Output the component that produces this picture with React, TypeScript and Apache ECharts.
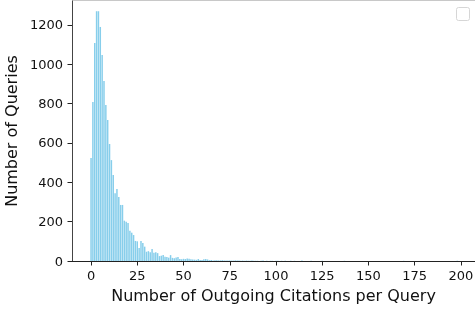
import React, { useEffect, useRef } from "react";
import * as echarts from "echarts";

// Number of outgoing citations per query (x) and number of queries (y)
const citations: number[] = [
  0, 1, 2, 3, 4, 5, 6, 7, 8, 9,
  10, 11, 12, 13, 14, 15, 16, 17, 18, 19,
  20, 21, 22, 23, 24, 25, 26, 27, 28, 29,
  30, 31, 32, 33, 34, 35, 36, 37, 38, 39,
  40, 41, 42, 43, 44, 45, 46, 47, 48, 49,
  50, 51, 52, 53, 54, 55, 56, 57, 58, 59,
  60, 61, 62, 63, 64, 65, 66, 67, 68, 69,
  70, 71, 72, 73, 74, 75, 76, 77, 78, 79,
  80, 81, 82, 83, 84, 85, 86, 87, 88, 89,
  90, 92, 93, 95, 97, 98, 100, 101, 103, 105,
  108, 110, 114, 119, 125, 137, 169, 198,
];
const queries: number[] = [
  524, 808, 1108, 1270, 1270, 1190, 1047, 915, 793, 717,
  595, 513, 437, 345, 366, 325, 285, 285, 205, 200,
  193, 154, 144, 132, 102, 100, 66, 102, 91, 73,
  47, 50, 45, 61, 42, 44, 40, 25, 27, 30,
  22, 20, 17, 30, 16, 14, 18, 20, 10, 9,
  11, 10, 13, 12, 9, 8, 7, 6, 10, 5,
  5, 9, 10, 8, 4, 5, 3, 4, 4, 3,
  3, 4, 2, 3, 2, 3, 2, 2, 3, 2,
  2, 1, 2, 1, 2, 1, 1, 2, 1, 1,
  1, 1, 2, 1, 1, 1, 1, 1, 1, 1,
  1, 1, 2, 1, 1, 1, 1, 1,
];
const xTicks: number[] = [0, 25, 50, 75, 100, 125, 150, 175, 200];
const yTicks: number[] = [0, 200, 400, 600, 800, 1000, 1200];
const barHalfWidth = 0.4;

const xLabel = "Number of Outgoing Citations per Query";
const yLabel = "Number of Queries";

export default function App() {
  const ref = useRef<HTMLDivElement>(null);
  useEffect(() => {
    if (!ref.current) return;
    const chart = echarts.init(ref.current, null, { renderer: "svg" });
    const font = "DejaVu Sans";
    const data = citations.map((c, i) => [c, queries[i]]);
    chart.setOption({
      animation: false,
      textStyle: { fontFamily: font },
      grid: {
        left: 72,
        right: 0,
        top: 1,
        bottom: 48,
        containLabel: false,
        outerBoundsMode: "none",
      },
      xAxis: {
        type: "value",
        min: -10.3,
        max: 207.6,
        name: xLabel,
        nameLocation: "middle",
        nameGap: 26,
        nameTextStyle: { fontSize: 16, color: "#111", fontFamily: font },
        axisLine: { show: true, onZero: false, lineStyle: { color: "#222", width: 1 } },
        axisTick: {
          show: true,
          length: 4.5,
          customValues: xTicks,
          lineStyle: { color: "#222", width: 1 },
        },
        axisLabel: {
          customValues: xTicks,
          fontSize: 13,
          color: "#111",
          margin: 8,
          fontFamily: font,
          formatter: (v: number) => String(v),
        },
        splitLine: { show: false },
      },
      yAxis: {
        type: "value",
        min: 0,
        max: 1322,
        name: yLabel,
        nameLocation: "middle",
        nameGap: 44,
        nameTextStyle: { fontSize: 16, color: "#111", fontFamily: font },
        axisLine: { show: true, onZero: false, lineStyle: { color: "#444", width: 1 } },
        axisTick: {
          show: true,
          length: 4.5,
          customValues: yTicks,
          lineStyle: { color: "#222", width: 1 },
        },
        axisLabel: {
          customValues: yTicks,
          fontSize: 13,
          color: "#111",
          margin: 9,
          fontFamily: font,
          formatter: (v: number) => String(v),
        },
        splitLine: { show: false },
      },
      graphic: [
        {
          type: "line",
          shape: { x1: 72, y1: 0.5, x2: 475, y2: 0.5 },
          style: { stroke: "#c8c8c8", lineWidth: 1 },
          silent: true,
        },
        {
          type: "rect",
          shape: { x: 456.5, y: 7.5, width: 13, height: 13, r: 2 },
          style: { fill: "#fff", stroke: "#d6d6d6", lineWidth: 1 },
          silent: true,
        },
      ],
      series: [
        {
          type: "custom",
          data,
          silent: true,
          encode: { x: 0, y: 1 },
          renderItem: (params: any, api: any) => {
            const x = api.value(0);
            const y = api.value(1);
            const p0 = api.coord([x - barHalfWidth, y]);
            const p1 = api.coord([x + barHalfWidth, 0]);
            return {
              type: "rect",
              shape: { x: p0[0], y: p0[1], width: p1[0] - p0[0], height: p1[1] - p0[1] },
              style: { fill: "#87CEEB" },
            };
          },
        },
      ],
    });
    return () => chart.dispose();
  }, []);
  return (
    <div
      ref={ref}
      style={{ position: "fixed", left: 0, top: 0, width: 475, height: 309 }}
    />
  );
}
